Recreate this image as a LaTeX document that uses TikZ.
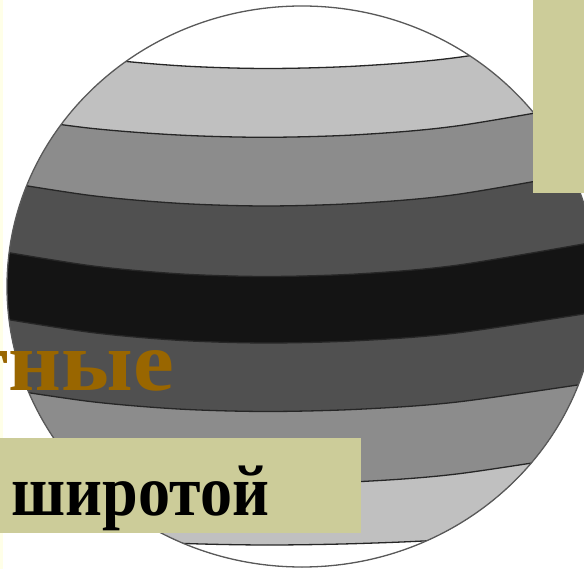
\documentclass[tikz,border=0pt]{standalone}
\usepackage{fontspec}
\setmainfont{Liberation Serif}
\usetikzlibrary{positioning}
\definecolor{khaki}{RGB}{204,204,153}
\definecolor{ochre}{RGB}{153,102,0}
\definecolor{paleyellow}{RGB}{255,255,232}
\definecolor{bandlight}{RGB}{192,192,192}
\definecolor{bandmid}{RGB}{140,140,140}
\definecolor{banddark}{RGB}{80,80,80}
\definecolor{bandblack}{RGB}{20,20,20}

\begin{document}
\begin{tikzpicture}[x=1pt,y=-1pt,
  belt/.style={draw=black!85, line width=1.3pt},
  rim/.style={draw=black!65, line width=1.3pt},
  bigword/.style={inner sep=0pt, transform shape, font=\bfseries\fontsize{#1}{#1}\selectfont}]
\useasboundingbox (0,0) rectangle (584,569);
\fill [paleyellow] (0,0) rectangle (2.5,569);
\begin{scope}
\clip (302,286.5) ellipse [x radius=295, y radius=280.5];
\fill [white] (-20,-20) rectangle (620,600);
\filldraw [belt, fill=bandlight] plot [smooth] coordinates {(-20,39.3) (90,57.4) (180,65.8) (267,68.5) (360,65.9) (460,57.1) (620,30.5)} -- (620,600) -- (-20,600) -- cycle;
\filldraw [belt, fill=bandmid] plot [smooth] coordinates {(-20,113.3) (90,128.2) (180,135.1) (267,137.3) (360,134.6) (460,125.5) (620,97.9)} -- (620,600) -- (-20,600) -- cycle;
\filldraw [belt, fill=banddark] plot [smooth] coordinates {(-20,178.2) (90,195.4) (180,203.4) (267,206) (360,203.2) (460,194) (620,165.9)} -- (620,600) -- (-20,600) -- cycle;
\filldraw [belt, fill=bandblack] plot [smooth] coordinates {(-20,247.8) (90,265.6) (180,273.9) (267,276.5) (360,273.8) (460,264.8) (620,237.5)} -- (620,600) -- (-20,600) -- cycle;
\filldraw [belt, fill=banddark] plot [smooth] coordinates {(-20,314.9) (90,332.3) (180,340.4) (267,343) (360,340.6) (460,332.6) (620,308.2)} -- (620,600) -- (-20,600) -- cycle;
\filldraw [belt, fill=bandmid] plot [smooth] coordinates {(-20,385.2) (90,401.5) (180,409.1) (267,411.5) (360,409.2) (460,401.7) (620,378.6)} -- (620,600) -- (-20,600) -- cycle;
\filldraw [belt, fill=bandlight] plot [smooth] coordinates {(-20,459.3) (90,474.6) (180,481.7) (267,484) (360,481.6) (460,473.6) (620,449.1)} -- (620,600) -- (-20,600) -- cycle;
\filldraw [belt, fill=white] plot [smooth] coordinates {(-20,526.9) (90,538.1) (180,543.3) (267,545) (360,543.5) (460,538.7) (620,523.8)} -- (620,600) -- (-20,600) -- cycle;
\end{scope}
\draw [rim] (302,286.5) ellipse [x radius=295, y radius=280.5];
\fill [khaki] (533,0) rectangle (584,193);
\fill [khaki] (0,438) rectangle (361,533);
\node [bigword=85, xscale=1.08, text=ochre, anchor=base east] (zones) at (174,390.5) {тные};
\node [bigword=72, xscale=0.89, text=black, anchor=base west] (latitude) at (11.5,515) {широтой};
\end{tikzpicture}
\end{document}
